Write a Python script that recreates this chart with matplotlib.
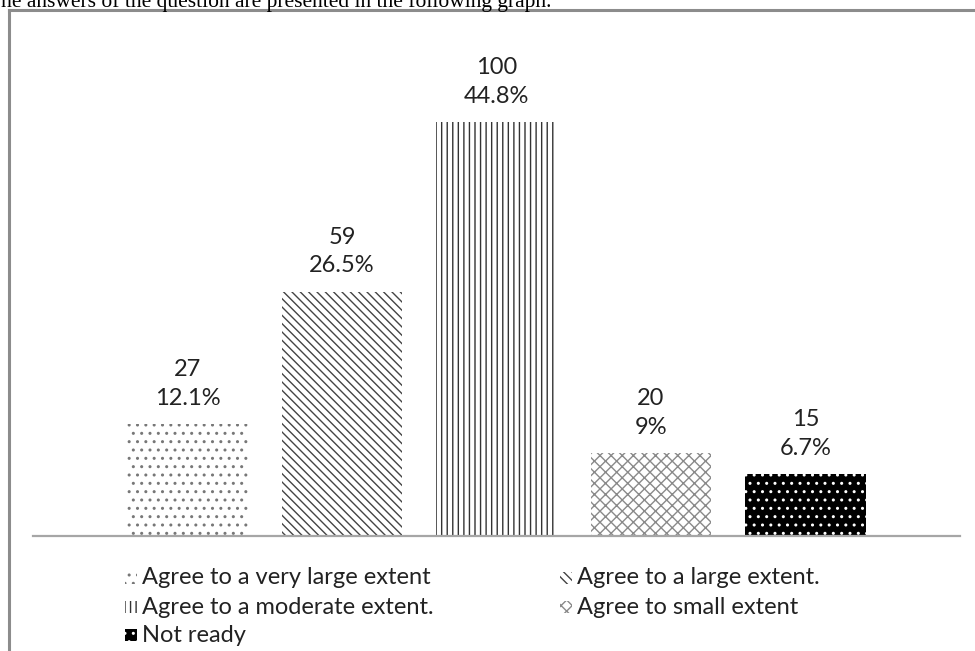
import matplotlib
matplotlib.use("Agg")
import matplotlib.pyplot as plt
from matplotlib.patches import Rectangle
from matplotlib.lines import Line2D

# survey answers
categories = ["Agree to a very large extent", "Agree to a large extent.",
              "Agree to a moderate extent.", "Agree to small extent", "Not ready"]
counts = [27, 59, 100, 20, 15]
percents = ["12.1%", "26.5%", "44.8%", "9%", "6.7%"]

# bar fill styles (face, hatch colour, hatch)
faces = ["white", "white", "white", "white", "black"]
hatch_cols = ["#777777", "#444444", "#333333", "#8a8a8a", "white"]
hatches = ["..", "\\\\\\\\", "|||", "xxx", ".."]

plt.rcParams["hatch.linewidth"] = 1.0
plt.rcParams["font.family"] = ["Lato", "DejaVu Sans"]

fig = plt.figure(figsize=(9.75, 6.51), dpi=100)
W, H = 975.0, 651.0
ax = fig.add_axes([33 / W, (H - 536) / H, 927 / W, 497 / H])

x = list(range(len(categories)))
bars = ax.bar(x, counts, width=0.78, color=faces, edgecolor=hatch_cols,
              linewidth=0)
for b, h in zip(bars, hatches):
    b.set_hatch(h)

for xi, c, p in zip(x, counts, percents):
    ax.annotate(f"{c}\n{p}", (xi, c), xytext=(0, 11), textcoords="offset points",
                ha="center", va="bottom", fontsize=17, color="#222222",
                linespacing=1.45)

ax.set_xlim(-1.0, 5.0)
ax.set_ylim(0, 120)
for s in ["top", "left", "right"]:
    ax.spines[s].set_visible(False)
ax.spines["bottom"].set_color("#a6a6a6")
ax.spines["bottom"].set_linewidth(1.6)
ax.set_xticks([])
ax.set_yticks([])
ax.patch.set_alpha(0)

# legend in two columns under the chart
col_x = [142, 577]
row_y = [578, 607, 635]
slots = [(0, 0), (1, 0), (0, 1), (1, 1), (0, 2)]
for (ci, ri), lab, f, hc, h in zip(slots, categories, faces, hatch_cols, hatches):
    tx = col_x[ci]
    ty = row_y[ri]
    fig.add_artist(Rectangle(((tx - 17) / W, (H - ty - 6) / H), 12 / W, 12 / H,
                             facecolor=f, edgecolor=hc, hatch=h, linewidth=0,
                             transform=fig.transFigure))
    fig.text(tx / W, (H - ty) / H, lab, ha="left", va="center", fontsize=17,
             color="#222222")

# frame around the figure area
fig.add_artist(Line2D([9 / W, 9 / W], [0, (H - 10) / H], color="#8c8c8c", lw=2.2,
                      transform=fig.transFigure))
fig.add_artist(Line2D([9 / W, 1.0], [(H - 10) / H, (H - 10) / H], color="#8c8c8c",
                      lw=2.2, transform=fig.transFigure))

fig.text(-0.012, (H - 7) / H, "The answers of the question are presented in the following graph.",
         ha="left", va="baseline", fontsize=15.5, family=["Liberation Serif", "DejaVu Serif"],
         color="black")

fig.savefig("out.png", dpi=100)
